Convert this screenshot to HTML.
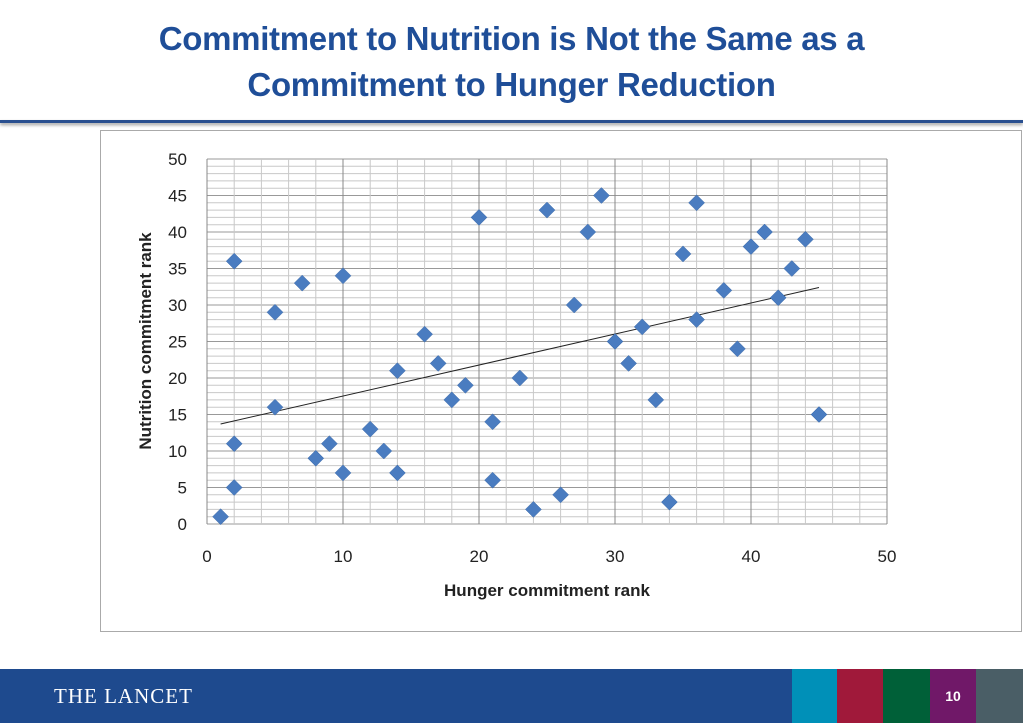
<!DOCTYPE html>
<html><head><meta charset="utf-8"><style>
body{margin:0;width:1023px;height:723px;background:#fff;position:relative;overflow:hidden;font-family:"Liberation Sans",sans-serif}
#title{position:absolute;top:16px;left:0;width:1023px;text-align:center;color:#1f4e98;font-weight:bold;font-size:33px;line-height:46px;letter-spacing:-0.3px}
#rule{position:absolute;left:0;top:120px;width:1023px;height:3px;background:#2a5090;box-shadow:0 2px 3px #999}
#box{position:absolute;left:100px;top:130px;width:920px;height:500px;border:1px solid #aaa}
#footer{position:absolute;left:0;top:669px;width:1023px;height:54px;background:#1e4a8e}
.blk{position:absolute;top:669px;height:54px}
</style></head><body>
<div id="title">Commitment to Nutrition is Not the Same as a<br>Commitment to Hunger Reduction</div>
<div id="rule"></div>
<div id="box"></div>
<svg id="chart" width="1023" height="723" style="position:absolute;left:0;top:0"></svg>
<div id="footer"><span style="position:absolute;left:54px;top:15px;color:#fff;font-family:'Liberation Serif',serif;font-size:21px;letter-spacing:1px">THE LANCET</span></div>
<div class="blk" style="left:792px;width:45px;background:#0090b8"></div>
<div class="blk" style="left:837px;width:46px;background:#a0193a"></div>
<div class="blk" style="left:883px;width:47px;background:#006038"></div>
<div class="blk" style="left:930px;width:46px;background:#701868;color:#fff;font-weight:bold;font-size:14px;text-align:center;line-height:54px">10</div>
<div class="blk" style="left:976px;width:47px;background:#4a5e66"></div>
<script>
const xs=[1,2,2,2,5,5,7,8,9,10,10,12,13,14,14,16,17,18,19,20,21,21,23,24,25,26,27,28,29,30,31,32,33,34,35,36,36,38,39,40,41,42,43,44,45];
const ys=[1,36,11,5,29,16,33,9,11,34,7,13,10,21,7,26,22,17,19,42,14,6,20,2,43,4,30,40,45,25,22,27,17,3,37,44,28,32,24,38,40,31,35,39,15];
const xTicks=[0,10,20,30,40,50];
const yTicks=[0,5,10,15,20,25,30,35,40,45,50];
const trendX=[1,45];
const trendY=[13.7,32.4];
const NS="http://www.w3.org/2000/svg";
const svg=document.getElementById('chart');
const X0=207,X1=887,Y0=524,Y1=159;
const sx=v=>X0+(X1-X0)*v/50, sy=v=>Y0-(Y0-Y1)*v/50;
function mk(t,a){const e=document.createElementNS(NS,t);for(const k in a)e.setAttribute(k,a[k]);svg.appendChild(e);return e;}
for(let v=0;v<=50;v++){const l=mk('line',{x1:X0,x2:X1,y1:sy(v),y2:sy(v),stroke:v%5?'#c8c8c8':'#999','stroke-width':1});

}
for(let v=0;v<=50;v+=2){const l=mk('line',{x1:sx(v),x2:sx(v),y1:Y1,y2:Y0,stroke:v%10?'#c8c8c8':'#888','stroke-width':1});

}
xTicks.forEach(v=>{const t=mk('text',{x:sx(v),y:Y0+38,'text-anchor':'middle','font-size':17,fill:'#222'});t.textContent=v;

});
yTicks.forEach(v=>{const t=mk('text',{x:X0-20,y:sy(v)+6,'text-anchor':'end','font-size':17,fill:'#222'});t.textContent=v;

});
const xt=mk('text',{x:547,y:596,'text-anchor':'middle','font-size':17,'font-weight':'bold',fill:'#222'});xt.textContent='Hunger commitment rank';


const yt=mk('text',{x:0,y:0,'text-anchor':'middle','font-size':17,'font-weight':'bold',fill:'#222',transform:'translate(151,341) rotate(-90)'});yt.textContent='Nutrition commitment rank';


const tl=mk('line',{x1:sx(trendX[0]),y1:sy(trendY[0]),x2:sx(trendX[1]),y2:sy(trendY[1]),stroke:'#222','stroke-width':1});


xs.forEach((x,i)=>{const cx=sx(x),cy=sy(ys[i]),r=8;
const p=mk('polygon',{points:`${cx},${cy-r} ${cx+r},${cy} ${cx},${cy+r} ${cx-r},${cy}`,fill:'#4a7cc0',stroke:'#3d6aa8','stroke-width':0.5});

});
</script>
</body></html>
